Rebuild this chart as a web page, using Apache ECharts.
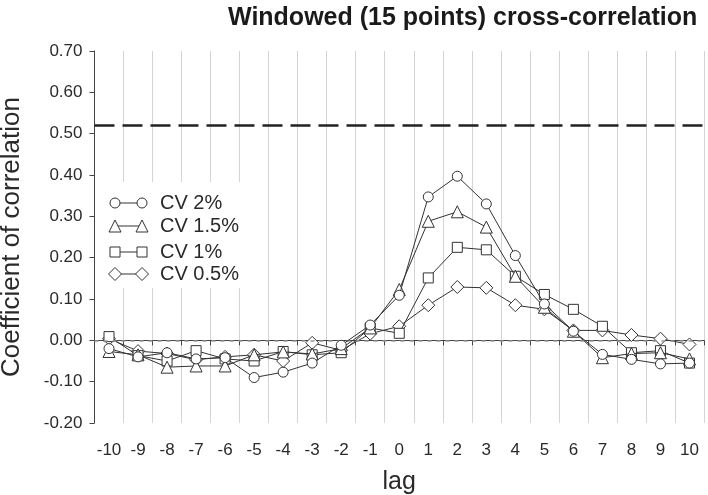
<!DOCTYPE html>
<html>
<head>
<meta charset="utf-8">
<script src="https://cdn.jsdelivr.net/npm/echarts@6/dist/echarts.min.js"></script>
<style>
  html, body { margin: 0; padding: 0; background: #fff; }
  #main { width: 708px; height: 495px; }
</style>
</head>
<body>
<div id="main"></div>
<script>
// lag values on the x axis
var lags = ['-10', '-9', '-8', '-7', '-6', '-5', '-4', '-3', '-2', '-1', '0',
            '1', '2', '3', '4', '5', '6', '7', '8', '9', '10'];

// coefficient of correlation, one array per CV level
var cv2 = [-0.020, -0.040, -0.030, -0.045, -0.042, -0.090, -0.077, -0.055, -0.012, 0.037, 0.109,
           0.347, 0.397, 0.330, 0.205, 0.088, 0.022, -0.034, -0.046, -0.057, -0.055];
var cv15 = [-0.027, -0.035, -0.065, -0.062, -0.062, -0.035, -0.028, -0.033, -0.020, 0.030, 0.123,
            0.288, 0.311, 0.274, 0.155, 0.080, 0.022, -0.042, -0.032, -0.030, -0.045];
var cv1 = [0.009, -0.037, -0.050, -0.025, -0.045, -0.050, -0.027, -0.035, -0.030, 0.030, 0.017,
           0.151, 0.225, 0.219, 0.155, 0.111, 0.075, 0.034, -0.030, -0.025, -0.055];
var cv05 = [0.004, -0.026, -0.032, -0.047, -0.040, -0.035, -0.050, -0.006, -0.024, 0.016, 0.034,
            0.085, 0.129, 0.127, 0.085, 0.075, 0.024, 0.024, 0.013, 0.004, -0.010];

var seriesNames = ['CV 2%', 'CV 1.5%', 'CV 1%', 'CV 0.5%'];
var seriesSymbols = ['circle', 'triangle', 'rect', 'diamond'];
var symbolSizes = [10, 12, 10, 13];
var threshold = 0.52;

var FONT = '"Liberation Sans", Arial, sans-serif';
var INK = '#2a2a2a';

var myChart = echarts.init(document.getElementById('main'));

function makeSeries(name, data, idx) {
    var s = {
        name: name,
        type: 'line',
        data: data,
        symbol: seriesSymbols[idx],
        symbolSize: symbolSizes[idx],
        showAllSymbol: true,
        lineStyle: { color: '#333', width: 1 },
        itemStyle: { color: '#fff', borderColor: '#333', borderWidth: 1 },
        emphasis: { disabled: true },
        z: 5 - idx
    };
    if (idx === 0) {
        s.markLine = {
            silent: true,
            symbol: ['none', 'none'],
            label: { show: false },
            data: [
                { yAxis: threshold, lineStyle: { color: '#222', width: 2.5, type: [20, 8] } },
                { yAxis: 0, lineStyle: { color: '#999', width: 1.5, type: [4, 5] } }
            ]
        };
    }
    return s;
}

// legend drawn by hand: symbol, line, symbol, then label
var legendRows = [203, 226, 252, 274];
var legendGraphics = [{
    type: 'rect',
    shape: { x: 96, y: 182, width: 156, height: 106 },
    style: { fill: '#fff' },
    z: 10
}];
function legendSymbol(kind, cx, cy) {
    var st = { fill: '#fff', stroke: '#333', lineWidth: 1 };
    if (kind === 'circle') {
        return { type: 'circle', shape: { cx: cx, cy: cy, r: 5 }, style: st, z: 12 };
    }
    if (kind === 'triangle') {
        return { type: 'polygon', shape: { points: [[cx, cy - 6], [cx + 6, cy + 6], [cx - 6, cy + 6]] }, style: st, z: 12 };
    }
    if (kind === 'rect') {
        return { type: 'rect', shape: { x: cx - 5, y: cy - 5, width: 10, height: 10 }, style: st, z: 12 };
    }
    return { type: 'polygon', shape: { points: [[cx, cy - 6.5], [cx + 6.5, cy], [cx, cy + 6.5], [cx - 6.5, cy]] }, style: st, z: 12 };
}
seriesNames.forEach(function (name, i) {
    var y = legendRows[i];
    legendGraphics.push({
        type: 'line',
        shape: { x1: 115, y1: y, x2: 142, y2: y },
        style: { stroke: '#333', lineWidth: 1 },
        z: 11
    });
    legendGraphics.push(legendSymbol(seriesSymbols[i], 115, y));
    legendGraphics.push(legendSymbol(seriesSymbols[i], 142, y));
    legendGraphics.push({
        type: 'text',
        x: 160, y: y,
        style: { text: name, font: '20px ' + FONT, fill: INK, textVerticalAlign: 'middle' },
        z: 12
    });
});

var option = {
    animation: false,
    backgroundColor: '#fff',
    title: {
        text: 'Windowed (15 points) cross-correlation',
        left: 223,
        top: 1,
        textStyle: { fontFamily: FONT, fontWeight: 'bold', fontSize: 25, color: '#1a1a1a' }
    },
    grid: { left: 94.5, right: 4, top: 51, bottom: 72, outerBoundsMode: 'none', containLabel: false },
    xAxis: {
        type: 'category',
        data: lags,
        boundaryGap: true,
        name: 'lag',
        nameLocation: 'middle',
        nameGap: 47,
        nameTextStyle: { fontFamily: FONT, fontSize: 25, color: INK },
        axisLine: { lineStyle: { color: '#444', width: 1 } },
        axisTick: { show: true, length: 5, alignWithLabel: false, lineStyle: { color: '#444' } },
        axisLabel: { margin: 19, fontFamily: FONT, fontSize: 17, color: INK, interval: 0 },
        splitLine: { show: true, lineStyle: { color: '#d4d4d4', width: 1 } }
    },
    yAxis: {
        type: 'value',
        min: -0.2,
        max: 0.7,
        interval: 0.1,
        name: 'Coefficient of correlation',
        nameLocation: 'middle',
        nameGap: 70,
        nameTextStyle: { fontFamily: FONT, fontSize: 26, color: INK },
        axisLine: { show: true, lineStyle: { color: '#444', width: 1 } },
        axisTick: { show: true, length: 5, lineStyle: { color: '#444' } },
        axisLabel: {
            margin: 12, fontFamily: FONT, fontSize: 17, color: INK,
            formatter: function (v) { return v.toFixed(2); }
        },
        splitLine: { show: false }
    },
    graphic: legendGraphics,
    series: [
        makeSeries(seriesNames[0], cv2, 0),
        makeSeries(seriesNames[1], cv15, 1),
        makeSeries(seriesNames[2], cv1, 2),
        makeSeries(seriesNames[3], cv05, 3)
    ]
};

myChart.setOption(option);
</script>
</body>
</html>
